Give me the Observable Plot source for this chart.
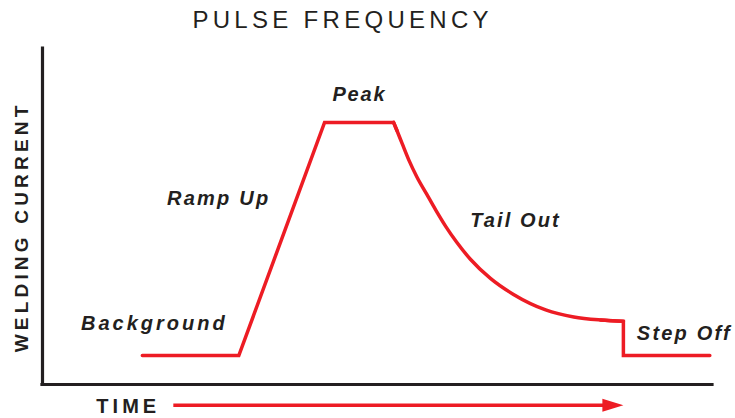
<!DOCTYPE html>
<html>
<head>
<meta charset="utf-8">
<script src="https://cdn.jsdelivr.net/npm/d3@7"></script>
<script src="https://cdn.jsdelivr.net/npm/@observablehq/plot@0.6"></script>
<style>
  html, body { margin: 0; padding: 0; background: #fff; }
  #chart svg { display: block; }
</style>
</head>
<body>
<div id="chart"></div>
<script>
// ---- data (arbitrary time / current units) ----
// rise: background -> ramp up -> peak
const riseTime    = [14.9, 29.3, 42.1, 52.4, 52.9];
const riseCurrent = [8.6, 8.6, 78.0, 78.0, 75.6];
// tail out (decay)
const tailTime    = [52.4, 52.9, 53.7, 54.7, 55.9, 57.3, 58.7, 60.2, 61.8, 63.9, 66.9, 70.3, 75.1, 79.3, 83.3, 86.7];
const tailCurrent = [78.0, 75.6, 71.6, 66.7, 61.7, 56.8, 51.9, 47.0, 42.4, 37.2, 31.5, 26.8, 22.2, 20.1, 19.2, 18.8];
// step off
const stepTime    = [83.3, 86.7, 86.7, 99.6];
const stepCurrent = [19.2, 18.8, 8.6, 8.6];

const phaseLabels = ["Background", "Ramp Up", "Peak", "Tail Out", "Step Off"];
const phaseX      = [16.7, 26.3, 47.3, 70.6, 95.8];
const phaseY      = [18.2, 55.2, 86.4, 48.7, 15.1];

const titleText  = "PULSE FREQUENCY";
const yLabelText = "WELDING CURRENT";
const xLabelText = "TIME";
const titlePos   = [44.8, 108.3];
const yLabelPos  = [-3.1, 46.9];
const xLabelPos  = [12.8, -6.6];

const arrowY     = -6.2;
const arrowStart = 19.6;
const arrowShaftEnd = 84.5;
const arrowTip   = 86.7;

const xDomain = [0, 100];
const yDomain = [0, 100];

// ---- build ----
const toPts = (ts, cs) => ts.map((t, i) => ({t, c: cs[i]}));
const rise = toPts(riseTime, riseCurrent);
const tail = toPts(tailTime, tailCurrent);
const step = toPts(stepTime, stepCurrent);
const phases = phaseLabels.map((label, i) => ({label, x: phaseX[i], y: phaseY[i]}));

const RED = "#ed1c24";
const INK = "#231f20";
const FONT = "Liberation Sans, Arial, Helvetica, sans-serif";

const headShape = {
  draw(context, l, r) {
    context.moveTo(0, -l);
    context.lineTo(-r, 0);
    context.lineTo(r, 0);
    context.closePath();
  }
};

const lineStyle = {x: "t", y: "c", stroke: RED, strokeWidth: 3.5, strokeLinejoin: "miter", strokeMiterlimit: 10};

const chart = Plot.plot({
  width: 735,
  height: 418,
  marginLeft: 42,
  marginRight: 23,
  marginTop: 48,
  marginBottom: 34,
  x: {domain: xDomain, axis: null},
  y: {domain: yDomain, axis: null},
  style: {fontFamily: FONT, background: "#fff"},
  marks: [
    // axis lines
    Plot.ruleX([xDomain[0]], {y1: yDomain[0], y2: yDomain[1], stroke: INK, strokeWidth: 3.2, strokeLinecap: "square"}),
    Plot.ruleY([yDomain[0]], {x1: xDomain[0], x2: xDomain[1], stroke: INK, strokeWidth: 3.2, strokeLinecap: "square"}),
    // pulse waveform
    Plot.line(rise, lineStyle),
    Plot.line(tail, {...lineStyle, curve: "monotone-x"}),
    Plot.line(step, lineStyle),
    // time arrow
    Plot.ruleY([arrowY], {x1: arrowStart, x2: arrowShaftEnd, stroke: RED, strokeWidth: 3.5}),
    Plot.vector([{x: arrowTip, y: arrowY}], {x: "x", y: "y", rotate: 90, length: 21, r: 6.5, anchor: "end", shape: headShape, fill: RED, stroke: "none"}),
    // phase labels
    Plot.text(phases, {x: "x", y: "y", text: "label", fontSize: 20, fontWeight: "bold", fontStyle: "italic", fill: INK, textAnchor: "middle", lineAnchor: "middle"}),
    // title & axis labels
    Plot.text([titleText], {x: () => titlePos[0], y: () => titlePos[1], text: d => d, fontSize: 24, fill: INK, lineAnchor: "middle"}),
    Plot.text([yLabelText], {x: () => yLabelPos[0], y: () => yLabelPos[1], text: d => d, fontSize: 19, fontWeight: "bold", rotate: -90, fill: INK, lineAnchor: "middle"}),
    Plot.text([xLabelText], {x: () => xLabelPos[0], y: () => xLabelPos[1], text: d => d, fontSize: 20, fontWeight: "bold", fill: INK, lineAnchor: "middle"})
  ]
});

const spacing = {
  "PULSE FREQUENCY": 4.3,
  "WELDING CURRENT": 4.2,
  "TIME": 4,
  "Background": 3,
  "Ramp Up": 2.2,
  "Peak": 1.8,
  "Tail Out": 2.1,
  "Step Off": 2.2
};
d3.select(chart).selectAll("text").each(function() {
  const s = this.textContent;
  if (spacing[s] != null) this.setAttribute("letter-spacing", spacing[s]);
});

document.getElementById("chart").appendChild(chart);
</script>
</body>
</html>
